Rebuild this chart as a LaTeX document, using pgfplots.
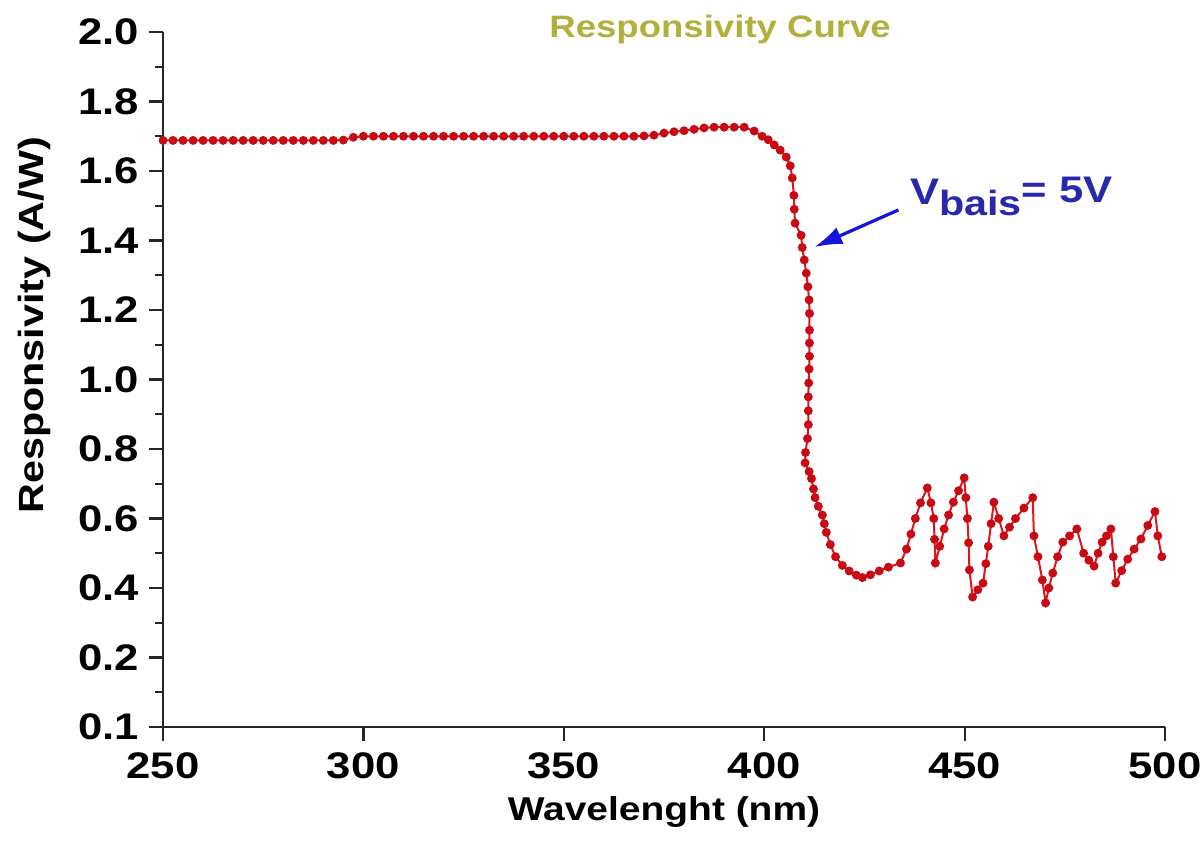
\documentclass[border=0pt]{standalone}
\usepackage{pgfplots}
\pgfplotsset{compat=1.18}
\usetikzlibrary{arrows.meta}
\usepackage{fontspec}
\setmainfont[FakeStretch=1.18]{Liberation Sans}
\definecolor{curvered}{RGB}{225,20,30}
\definecolor{markred}{RGB}{200,10,20}
\definecolor{titleolive}{RGB}{178,176,60}
\definecolor{annblue}{RGB}{40,40,170}
\definecolor{arrowblue}{RGB}{20,20,220}
\begin{document}
\begin{tikzpicture}
\useasboundingbox (-81.5pt,-57.5pt) rectangle (518.5pt,363.5pt);
\begin{axis}[
  at={(0,0)}, anchor=south west,
  scale only axis, width=501pt, height=347.5pt,
  xmin=250, xmax=500, ymin=0, ymax=2.0,
  axis lines*=left,
  axis line style={line width=1.3pt, black!85},
  every tick/.style={line width=1.1pt, black!85},
  tick align=outside,
  major tick length=7pt, minor tick length=4pt,
  xtick={250,300,350,400,450,500},
  ytick={0,0.2,0.4,0.6,0.8,1.0,1.2,1.4,1.6,1.8,2.0},
  yticklabels={0.1,0.2,0.4,0.6,0.8,1.0,1.2,1.4,1.6,1.8,2.0},
  minor ytick={0.1,0.3,0.5,0.7,0.9,1.1,1.3,1.5,1.7,1.9},
  /pgf/number format/assume math mode=true,
  x tick label style={font=\bfseries\fontsize{18.5}{19}\selectfont, yshift=-2.5pt},
  y tick label style={font=\bfseries\fontsize{18.5}{19}\selectfont, xshift=-1.5pt},
  xticklabel={\pgfmathprintnumber[fixed,precision=0]{\tick}},
  clip=false,
]
\addplot[color=curvered, line width=1pt, mark=*, mark size=1.7pt,
  mark options={fill=markred, draw=markred}] coordinates {
(250,1.688)(252.5,1.688)(255,1.688)(257.5,1.688)(260,1.688)(262.5,1.688)(265,1.688)(267.5,1.688)(270,1.688)(272.5,1.688)(275,1.688)(277.5,1.688)(280,1.688)(282.5,1.688)(285,1.688)(287.5,1.688)(290,1.688)(292.5,1.688)(295,1.689)(297.5,1.697)
(300,1.700)(302.5,1.700)(305,1.700)(307.5,1.700)(310,1.700)(312.5,1.700)(315,1.700)(317.5,1.700)(320,1.700)(322.5,1.700)(325,1.700)(327.5,1.700)(330,1.700)(332.5,1.700)(335,1.700)(337.5,1.700)(340,1.700)(342.5,1.700)(345,1.700)(347.5,1.700)
(350,1.700)(352.5,1.700)(355,1.700)(357.5,1.700)(360,1.700)(362.5,1.700)(365,1.700)(367.5,1.700)(370,1.701)(372.5,1.703)(375,1.709)(377.5,1.713)(380,1.716)(382.5,1.720)(385,1.724)(387.5,1.726)(390,1.726)(392.5,1.726)(395,1.726)(397.5,1.715)
(399.5,1.700)(401,1.690)(402.5,1.675)(404,1.660)(405.5,1.640)(406.5,1.615)(407,1.580)(407.4,1.530)(407.5,1.490)(407.7,1.450)(409.2,1.415)(409.5,1.380)(410,1.344)(410.5,1.306)(410.9,1.267)(411.2,1.229)(411.3,1.190)(411.3,1.142)(411.3,1.105)(411.3,1.067)
(411.2,1.030)(411.1,0.990)(411,0.950)(411,0.910)(411,0.870)(410.8,0.830)(410.3,0.790)(410.2,0.760)(411.2,0.735)(411.8,0.715)(412.3,0.685)(412.7,0.660)(413.5,0.635)(414.5,0.610)(415,0.585)(415.5,0.560)(416.5,0.525)(417.8,0.490)(419.5,0.465)(421.2,0.449)
(423,0.437)(424.5,0.430)(426.5,0.438)(428.7,0.449)(431,0.460)(434,0.472)(435.5,0.512)(436.6,0.555)(437.7,0.600)(439,0.645)(440.7,0.688)(441.6,0.645)(442.3,0.600)(442.5,0.540)(442.7,0.472)(443.8,0.520)(444.9,0.570)(446,0.610)(447.2,0.647)(448.5,0.680)
(449.9,0.717)(450.3,0.660)(450.7,0.600)(451,0.530)(451.2,0.452)(452,0.374)(453.3,0.395)(454.6,0.414)(455.3,0.470)(455.9,0.520)(456.6,0.585)(457.3,0.647)(458.5,0.600)(459.8,0.550)(461.2,0.575)(462.7,0.600)(464.8,0.630)(467,0.660)(467.3,0.550)(468.3,0.490)
(469.4,0.423)(470.2,0.357)(471,0.400)(472,0.443)(473.2,0.490)(474.5,0.532)(476.2,0.550)(478,0.570)(479.7,0.500)(481,0.480)(482.3,0.463)(483.3,0.500)(484.3,0.532)(485.4,0.550)(486.5,0.570)(487.1,0.490)(487.7,0.414)(489.2,0.450)(490.7,0.483)(492.3,0.512)
(494,0.541)(495.7,0.580)(497.5,0.620)(498.2,0.550)(499.2,0.490)
};
\draw[-{Latex[length=14pt,width=9pt]}, arrowblue, line width=1.6pt] (axis cs:433.5,1.488) -- (axis cs:412.5,1.381);
\node[anchor=base west, inner sep=0pt, text=annblue, font=\bfseries\fontsize{18.5}{19}\selectfont] at (axis cs:436.3,1.505) {V\raisebox{-0.32em}{\fontsize{17.5}{18}\selectfont bais}\raisebox{0.05em}{= 5V}};
\node[anchor=base, text=titleolive, font=\bfseries\fontsize{15.5}{16}\selectfont] at (rel axis cs:0.556,0.992) {Responsivity Curve};
\node[anchor=base, font=\bfseries\fontsize{16.5}{17}\selectfont] at (rel axis cs:0.5,-0.135) {Wavelenght (nm)};
\node[rotate=90, font=\bfseries\fontsize{17.5}{18}\selectfont] at (rel axis cs:-0.128,0.578) {Responsivity (A/W)};
\end{axis}
\end{tikzpicture}
\end{document}
